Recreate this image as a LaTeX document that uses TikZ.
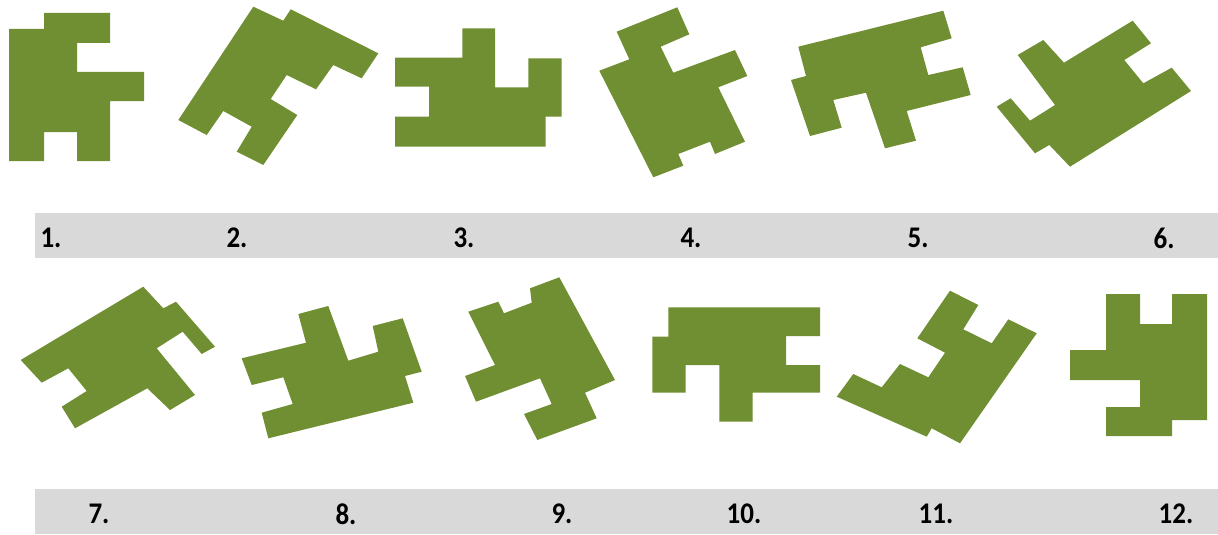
\documentclass[tikz,border=0pt]{standalone}
\usepackage{fontspec}
\setmainfont{Carlito}
\definecolor{piece}{RGB}{112,143,50}
\definecolor{bar}{RGB}{217,217,217}
\begin{document}
\begin{tikzpicture}[x=1pt,y=-1pt,
  piecefill/.style={fill=piece,draw=none},
  barfill/.style={fill=bar,draw=none},
  num/.style={font=\fontsize{30}{32}\selectfont\bfseries,inner sep=0pt,anchor=center,xscale=0.9,transform shape}]
\useasboundingbox (0,0) rectangle (1218,535);
% bars
\fill[barfill] (35,213) rectangle (1218,258);
\fill[barfill] (35,489) rectangle (1218,534);
% 1
\fill[piecefill] (44,13)--(110,13)--(110,43)--(77,43)--(77,72)--(144,72)--(144,101)--(110,101)--(110,161)--(77,161)--(77,132)--(44,132)--(44,161)--(9,161)--(9,29)--(44,29)--cycle;
% 2
\fill[piecefill] (253.3,6.7)--(283.3,20.7)--(290.7,9.3)--(378.3,53.3)--(361.7,78.3)--(333.3,65)--(316,89.3)--(286.7,75)--(270.7,99)--(297.3,115)--(263.3,165)--(236.7,151.7)--(251.7,126.7)--(223.3,111)--(206.7,135)--(178.3,120)--cycle;
% 3
\fill[piecefill] (462.3,28.3)--(495,28.3)--(495,87.3)--(528.3,87.3)--(528.3,58.3)--(561.7,58.3)--(561.7,116.7)--(545.7,116.7)--(545.7,146.7)--(395,146.7)--(395,116.7)--(429,116.7)--(429,86.7)--(395,86.7)--(395,57.7)--(462.3,57.7)--cycle;
% 4
\fill[piecefill] (616.7,31.7)--(677.3,7.3)--(689.3,34.3)--(660.7,46.7)--(673.3,72.7)--(735,50)--(747.3,76)--(718.3,87.3)--(745,141.7)--(715,154)--(710,141.7)--(678.3,154)--(683.3,165.7)--(653.3,177.3)--(599.3,70.7)--(629.3,59.3)--cycle;
% 5
\fill[piecefill] (798.3,46.7)--(943.3,10.7)--(951.7,38.3)--(920.7,47.3)--(928.3,75)--(962.7,67.3)--(970.7,95)--(906.7,111)--(916,140.7)--(885,148.3)--(866,92.7)--(833.3,100)--(841.7,127.7)--(810,136)--(791,80)--(806,76)--cycle;
% 6
\fill[piecefill] (1017.7,55)--(1043.3,40)--(1064,62.7)--(1132.7,20.7)--(1151,43.3)--(1124.3,60)--(1143.3,83.3)--(1171.7,67.7)--(1191,91)--(1070,166.7)--(1049.3,145)--(1035,153.3)--(996.7,106.7)--(1010.7,98.3)--(1030,120.7)--(1055,105)--cycle;
% 7
\fill[piecefill] (20.7,360)--(143.3,286.7)--(163.3,308.3)--(176,301.7)--(215,346.7)--(201.7,354)--(182.7,331.7)--(156.7,348.3)--(195,395)--(170,410)--(147.3,388.3)--(75,428.3)--(61.7,406.7)--(86.7,391)--(68.3,368.3)--(41.7,382.7)--cycle;
% 8
\fill[piecefill] (298.3,314)--(328.3,306)--(348.3,360.7)--(378.3,351.7)--(372.7,326)--(402.7,318.3)--(421.7,371.7)--(405,376)--(413.3,402.7)--(268.3,438.3)--(261.7,412.7)--(292.7,404)--(283.3,377.3)--(251.7,385)--(241.7,358.3)--(306,342.7)--cycle;
% 9
\fill[piecefill] (468.3,311.7)--(498.3,301.7)--(504,313.3)--(531.7,302.7)--(530,288.3)--(559.3,277.3)--(615,380)--(585,392.7)--(596.7,418.3)--(537.3,440)--(524,414)--(551.7,404)--(540,378.3)--(476,401.7)--(465,376)--(495,365)--cycle;
% 10
\fill[piecefill] (668.3,307.3)--(820,307.3)--(820,336)--(786,336)--(786,365)--(820,365)--(820,392.7)--(752.7,392.7)--(752.7,421.7)--(719.3,421.7)--(719.3,365)--(685.7,365)--(685.7,392.7)--(652.3,392.7)--(652.3,336.7)--(668.3,336.7)--cycle;
% 11
\fill[piecefill] (950,290.7)--(978.3,305)--(963.3,329.3)--(991.7,343.3)--(1008.3,319.3)--(1036.7,333.3)--(960,443.3)--(931.7,428.3)--(926.7,436.7)--(836.7,396.7)--(853.3,374)--(881.7,387.3)--(900,364)--(928.3,377.3)--(945,352.7)--(917.3,338.3)--cycle;
% 12
\fill[piecefill] (1106,294)--(1140,294)--(1140,324)--(1172,324)--(1172,294)--(1207,294)--(1207,420)--(1172,420)--(1172,436)--(1106,436)--(1106,407)--(1140,407)--(1140,380)--(1070,380)--(1070,350)--(1106,350)--cycle;
% labels
\node[num] (l1) at (51,238) {1.};
\node[num] (l2) at (237,238) {2.};
\node[num] (l3) at (464,238) {3.};
\node[num] (l4) at (691,238) {4.};
\node[num] (l5) at (918,238) {5.};
\node[num] (l6) at (1164,238) {6.};
\node[num] (l7) at (99,514) {7.};
\node[num] (l8) at (346,514) {8.};
\node[num] (l9) at (562,514) {9.};
\node[num] (l10) at (744,514) {10.};
\node[num] (l11) at (936,514) {11.};
\node[num] (l12) at (1176,514) {12.};
\end{tikzpicture}
\end{document}
